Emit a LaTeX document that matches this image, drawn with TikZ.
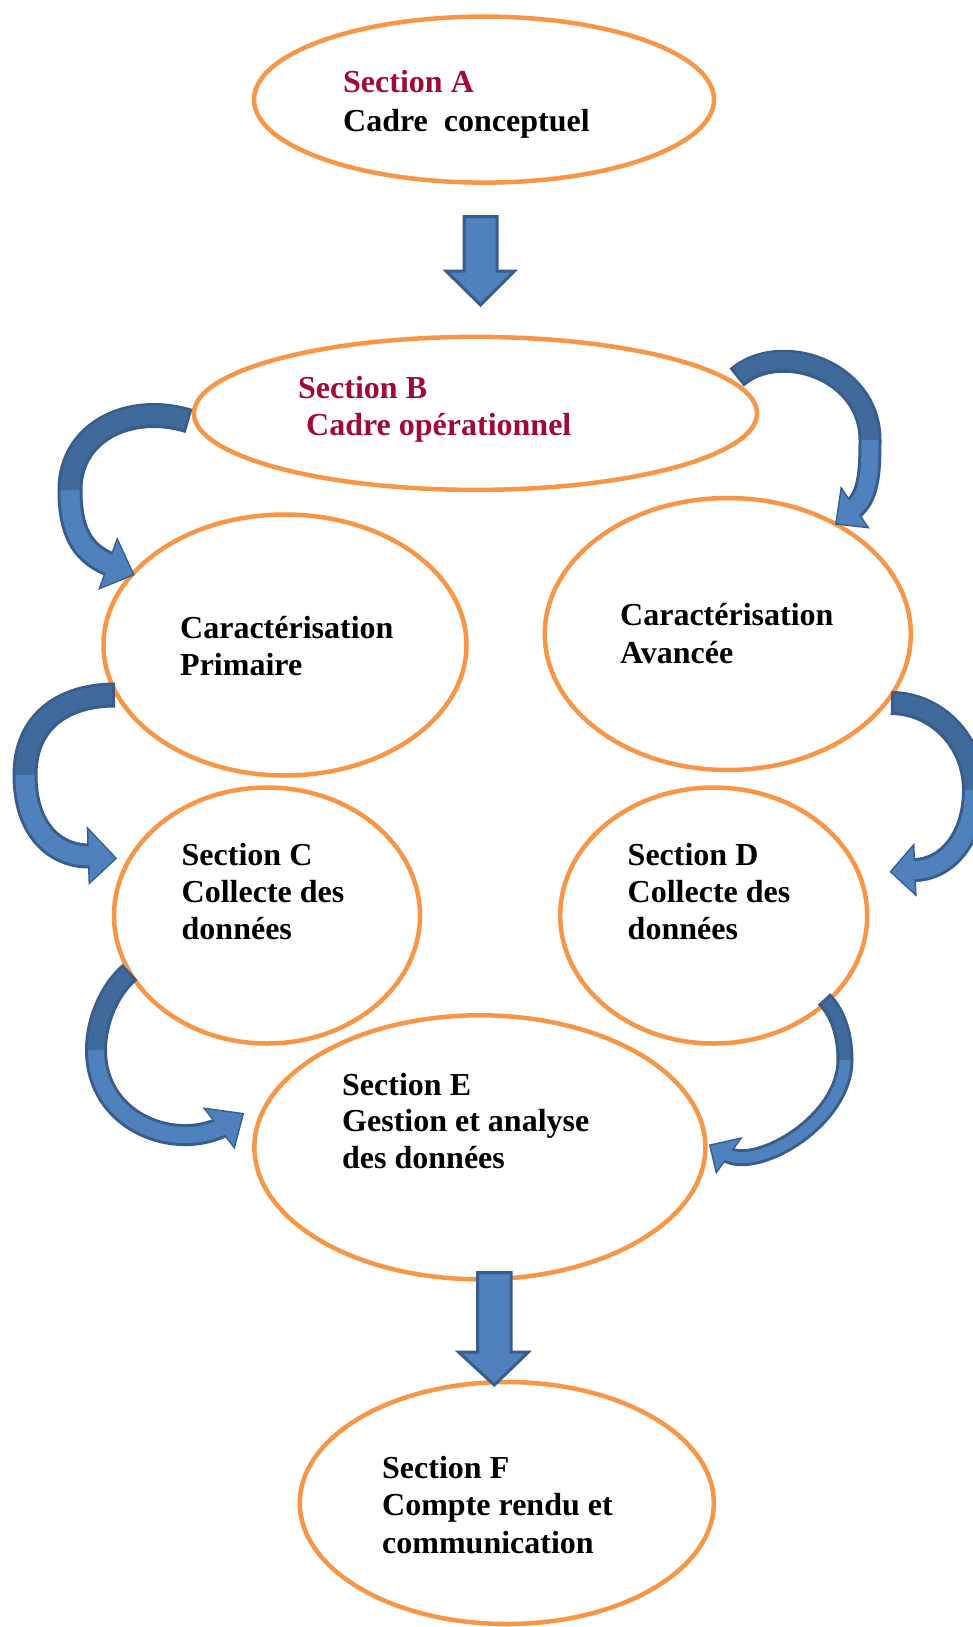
\documentclass[tikz,border=0pt]{standalone}
\usepackage{fontspec}
\setmainfont{Liberation Serif}
\usetikzlibrary{shapes.geometric}
\definecolor{ellorange}{HTML}{F79646}
\definecolor{arrfill}{HTML}{4F81BD}
\definecolor{arrback}{HTML}{40699C}
\definecolor{arrline}{HTML}{385D8A}
\definecolor{secred}{RGB}{160,10,55}
% #1 start, #2 controls seg1, #3 mid, #4 controls seg2, #5 end, #6 extension, #7 head polygon, #8 outer width, #9 inner width
\newcommand{\myCurvedArrow}[9]{%
  \draw[arrline,line width=#8] #1 .. #2 .. #3 .. #4 .. #5 -- #6;
  \filldraw[arrline,line width=3pt,line join=miter] #7 -- cycle;
  \draw[arrback,line width=#9,shorten <=3pt] #1 .. #2 .. #3;
  \draw[arrfill,line width=#9] #3 .. #4 .. #5 -- #6;
  \fill[arrfill] #7 -- cycle;
}
\begin{document}
\begin{tikzpicture}[x=1pt,y=-1pt,
  ell/.style={draw=ellorange,line width=4.5pt,ellipse,inner sep=0pt},
  txt/.style={anchor=base west,inner sep=0pt,font=\fontsize{32}{37}\selectfont\bfseries},
  redtxt/.style={txt,text=secred},
  blockarrow/.style={fill=arrfill,draw=arrline,line width=3pt,line join=miter}]
\useasboundingbox (0,0) rectangle (972,1627);
\fill[white] (0,0) rectangle (972,1627);

% ellipses
\node[ell,minimum width=460pt,minimum height=166pt] (A) at (484,99.6) {};
\node[ell,minimum width=563pt,minimum height=153pt] (B) at (475.5,413.4) {};
\node[ell,minimum width=363pt,minimum height=261pt] (CP) at (285,645) {};
\node[ell,minimum width=366pt,minimum height=272pt] (CA) at (727.8,634) {};
\node[ell,minimum width=306pt,minimum height=256pt] (C) at (267,915.5) {};
\node[ell,minimum width=307pt,minimum height=256pt] (D) at (713.7,915.5) {};
\node[ell,minimum width=451pt,minimum height=264pt] (E) at (479.9,1147.3) {};
\node[ell,minimum width=414pt,minimum height=242pt] (F) at (506.8,1503) {};

% texts
\node[redtxt] (a1) at (343,93) {Section A};
\node[txt] (a2) at (343,131.5) {Cadre\ \ conceptuel};
\node[redtxt] (b1) at (298,398) {Section B};
\node[redtxt] (b2) at (306,435) {Cadre opérationnel};
\node[txt] (p1) at (180,638) {Caractérisation};
\node[txt] (p2) at (180,675) {Primaire};
\node[txt] (v1) at (620,625.5) {Caractérisation};
\node[txt] (v2) at (620,663.5) {Avancée};
\node[txt] (c1) at (181.5,865.5) {Section C};
\node[txt] (c2) at (181.5,902.5) {Collecte des};
\node[txt] (c3) at (181.5,939.5) {données};
\node[txt] (d1) at (627.5,865.5) {Section D};
\node[txt] (d2) at (627.5,902.5) {Collecte des};
\node[txt] (d3) at (627.5,939.5) {données};
\node[txt] (e1) at (342,1095) {Section E};
\node[txt] (e2) at (342,1131.5) {Gestion et analyse};
\node[txt] (e3) at (342,1168.5) {des données};
\node[txt] (f1) at (382,1478.5) {Section F};
\node[txt] (f2) at (382,1515.5) {Compte rendu et};
\node[txt] (f3) at (382,1553.5) {communication};

% straight block arrows
\draw[blockarrow] (464,216.5) -- (497,216.5) -- (497,271) -- (514.5,271) -- (480.5,305) -- (446,271) -- (464,271) -- cycle;
\draw[blockarrow] (477.5,1272.5) -- (511,1272.5) -- (511,1352) -- (528.5,1352) -- (494.3,1385) -- (458.5,1352) -- (477.5,1352) -- cycle;

% curved arrows
\myCurvedArrow{(189,421)}{controls (132,403) and (70,430)}{(70,490)}{controls (70,530) and (81,552)}{(109,564)}{(116,567)}{(117.3,541) -- (132.7,574.3) -- (100.7,587.3)}{25pt}{19pt}
\myCurvedArrow{(736.7,377.5)}{controls (780,340) and (870,370)}{(870,440)}{controls (870,470) and (869,495)}{(854,508)}{(848,513)}{(841.7,490) -- (836.7,523.3) -- (866.7,526.7)}{23pt}{17pt}
\myCurvedArrow{(115,695)}{controls (65,695) and (25,720)}{(25,775)}{controls (25,830) and (55,856)}{(89,856)}{(97,856.4)}{(88.3,830) -- (115,858.3) -- (90,881.7)}{25pt}{19pt}
\myCurvedArrow{(891,703)}{controls (935,703) and (974,740)}{(974,790)}{controls (974,840) and (945,870)}{(914,870)}{(906,870)}{(913,846.7) -- (891.7,871.7) -- (915,893.3)}{24pt}{18pt}
\myCurvedArrow{(130,972)}{controls (110,989) and (96,1020)}{(96,1050)}{controls (96,1120) and (170,1150)}{(220,1128)}{(227,1124)}{(206,1109.3) -- (242.3,1114.3) -- (234,1146)}{22pt}{16pt}
\myCurvedArrow{(824,999)}{controls (838,1013) and (845,1035)}{(845,1060)}{controls (845,1120) and (760,1170)}{(728,1155)}{(721,1151)}{(739.3,1139.3) -- (710.7,1145.7) -- (716.7,1170.7)}{17pt}{11pt}
\end{tikzpicture}
\end{document}
